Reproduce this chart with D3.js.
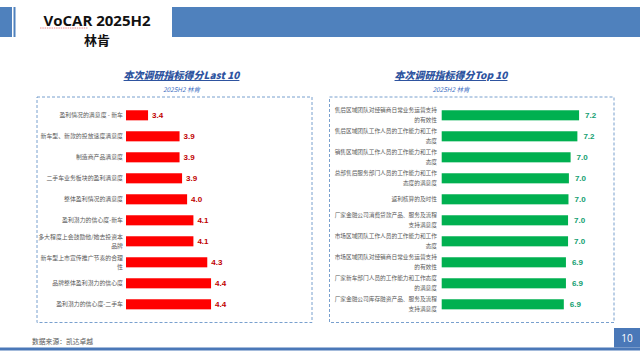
<!DOCTYPE html>
<html>
<head>
<meta charset="utf-8">
<script src="https://cdn.jsdelivr.net/npm/d3@7"></script>
<style>
html,body{margin:0;padding:0;background:#fff;}
svg{display:block;}
text{font-family:"Noto Sans CJK SC","Open Sans",sans-serif;}
</style>
</head>
<body>
<svg id="c" width="640" height="359"></svg>
<script>
// ---- data ----
const lastCategories = [
  "盈利情况的满意度 - 新车",
  "新车型、新款的投放速度满意度",
  "制造商产品满意度",
  "二手车业务板块的盈利满意度",
  "整体盈利情况的满意度",
  "盈利潜力的信心度-新车",
  "多大程度上会鼓励他/她去投资本\n品牌",
  "新车型上市宣传推广节奏的合理\n性",
  "品牌整体盈利潜力的信心度",
  "盈利潜力的信心度-二手车"
];
const lastValues = [3.40, 3.90, 3.90, 3.94, 4.02, 4.12, 4.12, 4.34, 4.40, 4.40];

const topCategories = [
  "售后区域团队对经销商日常业务运营支持\n的有效性",
  "售后区域团队工作人员的工作能力和工作\n态度",
  "销售区域团队工作人员的工作能力和工作\n态度",
  "总部售后服务部门人员的工作能力和工作\n态度的满意度",
  "返利核算的及时性",
  "厂家金融公司消费贷款产品、服务及流程\n支持满意度",
  "市场区域团队工作人员的工作能力和工作\n态度",
  "市场区域团队对经销商日常业务运营支持\n的有效性",
  "厂家新车部门人员的工作能力和工作态度\n的满意度",
  "厂家金融公司库存融资产品、服务及流程\n支持满意度"
];
const topValues = [7.24, 7.20, 7.04, 7.00, 6.99, 6.98, 6.98, 6.93, 6.93, 6.88];

const mainTitle = "VoCAR 2025H2";
const brand = "林肯";
const leftTitle = "本次调研指标得分Last 10";
const rightTitle = "本次调研指标得分Top 10";
const subTitle = "2025H2 林肯";
const source = "数据来源：凯达卓越";
const pageNo = "10";

// ---- drawing ----
const svg = d3.select("#c");
const blue = "#4F81BD";

// header
svg.append("rect").attr("x",0).attr("y",7).attr("width",12).attr("height",30).attr("fill",blue);
svg.append("rect").attr("x",13.5).attr("y",7).attr("width",2).attr("height",30).attr("fill",blue);
svg.append("rect").attr("x",172).attr("y",7).attr("width",468).attr("height",30).attr("fill",blue);
svg.append("text").attr("x",97).attr("y",26).attr("text-anchor","middle")
  .style("font-family","'Open Sans','Noto Sans CJK SC',sans-serif")
  .attr("font-size",15).attr("font-weight","bold").attr("fill","#111").text(mainTitle);
svg.append("line").attr("x1",40).attr("x2",88).attr("y1",28).attr("y2",28)
  .attr("stroke","#e04040").attr("stroke-width",0.6).attr("stroke-dasharray","1.5,0.8");
svg.append("text").attr("x",97).attr("y",45).attr("text-anchor","middle")
  .attr("font-size",13).attr("font-weight","bold").attr("fill","#111").text(brand);

// footer
svg.append("text").attr("x",32).attr("y",344).attr("font-size",6.8).attr("fill","#595959").text(source);
svg.append("rect").attr("x",0).attr("y",347.5).attr("width",640).attr("height",3).attr("fill","#4A78B8");
svg.append("rect").attr("x",614).attr("y",328).attr("width",26).attr("height",19.5).attr("fill","#4A78B8");
svg.append("text").attr("x",627).attr("y",341.5).attr("text-anchor","middle")
  .style("font-family","'Open Sans',sans-serif").attr("font-size",10).attr("fill","#fff").text(pageNo);

function panel(opt){
  const g = svg.append("g");
  // title
  g.append("text").attr("x",opt.cx).attr("y",79).attr("text-anchor","middle")
    .style("font-family","'Noto Sans CJK SC',Arial,sans-serif")
    .attr("font-size",10).attr("font-weight","900").attr("font-style","italic")
    .attr("fill","#2E54A0").attr("text-decoration","underline").text(opt.title);
  g.append("text").attr("x",opt.cx).attr("y",91.5).attr("text-anchor","middle")
    .attr("font-size",6.5).attr("font-style","italic").attr("fill","#4472C4").text(subTitle);
  // box
  g.append("rect").attr("x",opt.bx0).attr("y",97).attr("width",opt.bx1-opt.bx0).attr("height",225.5)
    .attr("fill","none").attr("stroke","#6A95C8").attr("stroke-width",0.9).attr("stroke-dasharray","3,2");

  const y = d3.scaleBand().domain(opt.cats).range([104.8,314.8]).paddingInner(0.52).paddingOuter(0.26);
  const x = d3.scaleLinear().domain(opt.domain).range(opt.range);

  const rows = g.selectAll("g.row").data(opt.cats.map((c,i)=>({c, v:opt.vals[i]}))).enter().append("g");
  rows.append("rect").attr("x",x(opt.domain[0])).attr("y",d=>y(d.c))
    .attr("width",d=>x(d.v)-x(opt.domain[0])).attr("height",y.bandwidth()).attr("fill",opt.color);
  rows.append("text").attr("x",d=>x(d.v)+opt.voff).attr("y",d=>y(d.c)+y.bandwidth()/2+3)
    .style("font-family","Arial,'Liberation Sans',sans-serif")
    .attr("font-size",8).attr("font-weight","bold").attr("fill",opt.vcolor)
    .text(d=>d3.format(".1f")(d.v));
  rows.each(function(d){
    const lines = d.c.split("\n");
    const cy = y(d.c)+y.bandwidth()/2;
    const t = d3.select(this).append("text").attr("text-anchor","end")
      .attr("font-size",opt.lfs).attr("fill","#595959");
    lines.forEach((ln,i)=>{
      t.append("tspan").attr("x",opt.lx)
        .attr("y",cy + (i-(lines.length-1)/2)*opt.lh + opt.lfs*0.36).text(ln);
    });
  });
}

panel({title:leftTitle, cx:181.5, bx0:37, bx1:312, cats:lastCategories, vals:lastValues,
  domain:[3.05,5], range:[126,126+1.95*63], color:"#FF0000", vcolor:"#C00000", voff:4,
  lx:123, lfs:5.9, lh:9});
panel({title:rightTitle, cx:451, bx0:329.5, bx1:614, cats:topCategories, vals:topValues,
  domain:[4,8], range:[441.7,441.7+4*42.4], color:"#00B050", vcolor:"#12A070", voff:6,
  lx:437, lfs:5.7, lh:10});
</script>
</body>
</html>
